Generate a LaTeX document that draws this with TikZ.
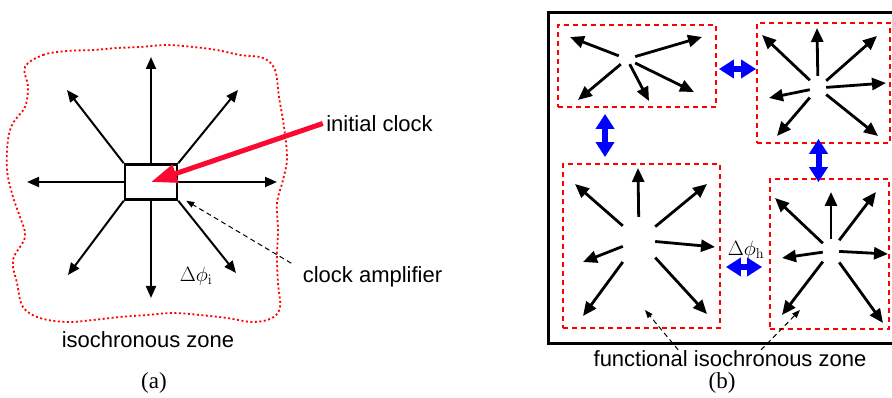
\documentclass[tikz,border=0pt]{standalone}
\usepackage[no-math]{fontspec}
\setmainfont{Liberation Sans}
\newfontfamily\serifa{Liberation Serif}
\usepackage{tikz}
\usetikzlibrary{arrows.meta,calc}
\definecolor{rojozona}{RGB}{255,0,0}
\definecolor{rojoflecha}{RGB}{250,10,50}
\definecolor{azulfase}{RGB}{0,0,255}

\begin{document}
\begin{tikzpicture}[x=1pt, y=-1pt,
  flechanegra/.style={-{Triangle[length=12pt,width=10pt]}, line width=2pt},
  flechazona/.style={-{Triangle[length=14pt,width=12pt]}, line width=2.8pt},
  flecharoja/.style={-{Triangle[length=26pt,width=18pt]}, line width=5pt, color=rojoflecha},
  dobleflecha/.style={{Triangle[length=15pt,width=18pt]}-{Triangle[length=15pt,width=18pt]},
    line width=6pt, color=azulfase},
  guia/.style={-{Triangle[length=8pt,width=6pt]}, line width=1pt, dash pattern=on 5pt off 3.5pt},
  zona/.style={draw=rojozona, line width=1.8pt, dash pattern=on 5pt off 4pt, inner sep=0pt},
  contorno/.style={draw=rojozona, line width=1.8pt, dash pattern=on 2pt off 2.5pt},
  centro/.style={inner sep=0pt},
  rotulo/.style={font=\fontsize{22}{26}\selectfont},
  fase/.style={font=\fontsize{21}{24}\selectfont},
  subfig/.style={font=\serifa\fontsize{23}{26}\selectfont}
]
\useasboundingbox (0,0) rectangle (892,398);

% (a) una zona isocrona
\draw[contorno] plot[smooth cycle, tension=0.6] coordinates {
  (25,67) (43,55) (67,51) (93,50) (117,48) (140,47) (167,45) (193,47) (217,50)
  (240,55) (263,58) (275,70) (279,97) (284,127) (287,158) (283,180) (277,203)
  (278,230) (277,257) (278,283) (280,307) (272,318) (253,322) (227,318) (200,315)
  (173,313) (147,315) (120,317) (93,320) (67,322) (40,318) (23,307) (17,283)
  (13,260) (25,237) (20,217) (13,197) (7,170) (8,140) (13,123) (25,107) (28,87)};
\node[draw, line width=2.5pt, fill=white, minimum width=52pt, minimum height=35pt,
  inner sep=0pt] (amp) at (151,182) {};
\foreach \ancla/\x/\y [count=\k] in {north/151/57, south/151/298, west/27/182,
  east/277/182, north west/67/90, north east/238/90, south west/68/275,
  south east/236/273}{
  \coordinate (fa\k) at (\x,\y);
  \draw[flechanegra] (amp.\ancla) -- (fa\k);
}
\node[rotulo] (reloj) at (379.5,123.5) {initial clock};
\node[rotulo] (amplificador) at (372.5,277) {clock amplifier};
\node[rotulo] (zonaiso) at (148,340) {isochronous zone};
\node[fase] (fasei) at (196,276) {$\Delta\phi_{\mathrm{i}}$};
\draw[flecharoja] (reloj.west) -- (amp.center);
\draw[guia] ([xshift=-8pt]amplificador.north west) -- ([xshift=8pt]amp.south east);
\node[subfig] (sa) at (154,383) {(a)};

% (b) zonas isocronas funcionales
\draw[line width=3pt] (548,13) rectangle (896,343);
\node[zona, minimum width=158pt, minimum height=82pt] (zona1) at (637,66) {};
\node[zona, minimum width=133pt, minimum height=120pt] (zona2) at (823.5,83) {};
\node[zona, minimum width=157pt, minimum height=164pt] (zona3) at (641.5,246) {};
\node[zona, minimum width=119pt, minimum height=150pt] (zona4) at (829.5,254) {};
\node[centro, minimum width=16pt, minimum height=10pt] (hub1) at (627,59) {};
\node[centro, minimum width=16pt, minimum height=24pt] (hub2) at (818,88) {};
\node[centro, minimum width=32pt, minimum height=46pt] (hub3) at (639,240) {};
\node[centro, minimum width=16pt, minimum height=23pt] (hub4) at (831,251) {};
\foreach \x/\y [count=\k] in {570/37, 702/37, 578/100, 649/101, 694/92}{
  \coordinate (fb\k) at (\x,\y);
  \draw[flechazona] (hub1) -- (fb\k);
}
\foreach \x/\y [count=\k] in {817/28, 762/35, 877/36, 886/83, 769/98, 777/136, 878/136}{
  \coordinate (fc\k) at (\x,\y);
  \draw[flechazona] (hub2) -- (fc\k);
}
\foreach \x/\y [count=\k] in {638/168, 575/184, 707/184, 715/247, 583/262, 583/316, 707/314}{
  \coordinate (fd\k) at (\x,\y);
  \draw[flechazona] (hub3) -- (fd\k);
}
\foreach \x/\y [count=\k] in {831/192, 775/198, 876/192, 888/254, 782/258, 782/315, 883/323}{
  \coordinate (fe\k) at (\x,\y);
  \draw[flechazona] (hub4) -- (fe\k);
}
\coordinate (b2) at ($(zona1.south west)!0.3!(zona1.south east)$);
\draw[dobleflecha, shorten <=2pt] ([yshift=-3pt]zona1.east)
  -- ([yshift=-3pt]zona1.east -| zona2.west);
\draw[dobleflecha, shorten <=6pt, shorten >=6pt] (b2) -- (b2 |- zona3.north);
\draw[dobleflecha, shorten <=-5pt, shorten >=-4pt] ([xshift=-5pt]zona2.south)
  -- ([xshift=-5pt]zona2.south |- zona4.north);
\draw[dobleflecha, shorten <=5pt, shorten >=7pt] ([yshift=-21pt]zona3.east)
  -- ([yshift=-21pt]zona3.east -| zona4.west);
\node[fase] (faseh) at (746,250) {$\Delta\phi_{\mathrm{h}}$};
\node[rotulo] (funcional) at (730,358.5) {functional isochronous zone};
\coordinate (fin1) at (645,310);
\coordinate (fin2) at (800,310);
\draw[guia] ([yshift=-3pt]$(funcional.north west)!0.315!(funcional.north east)$) -- (fin1);
\draw[guia] ([yshift=-3pt]$(funcional.north west)!0.611!(funcional.north east)$) -- (fin2);
\node[subfig] (sb) at (722,383) {(b)};
\end{tikzpicture}
\end{document}
